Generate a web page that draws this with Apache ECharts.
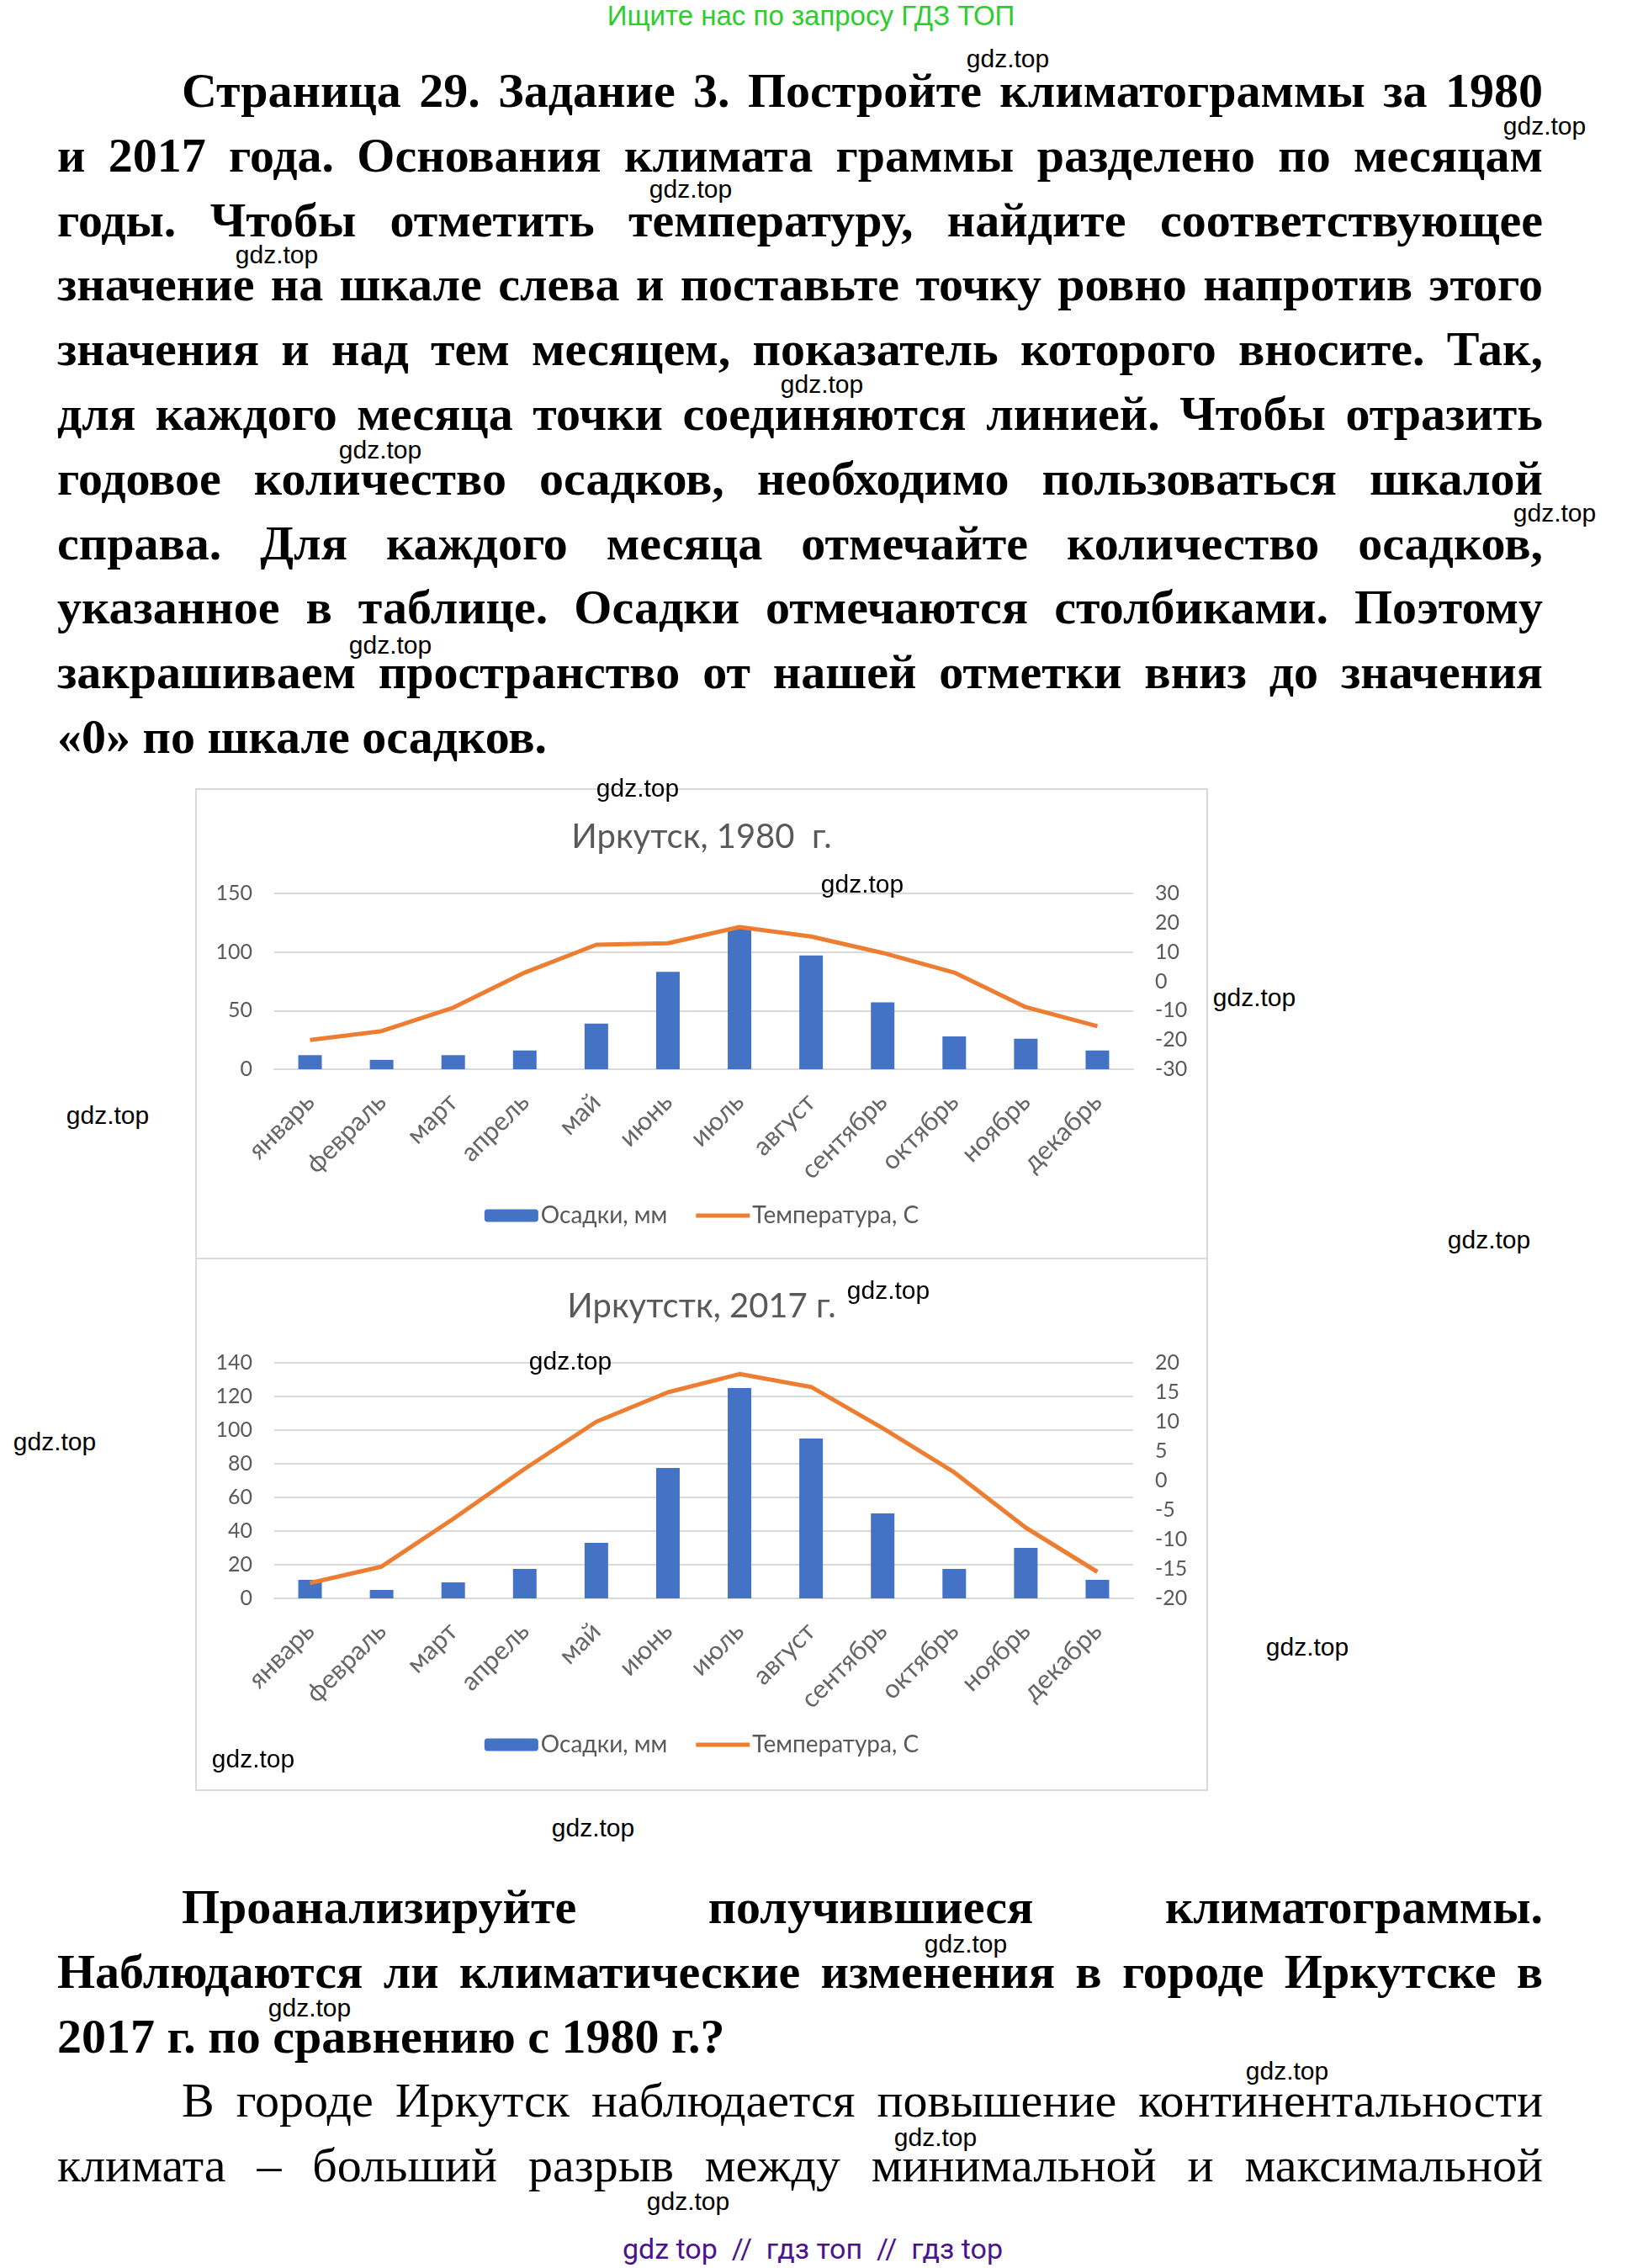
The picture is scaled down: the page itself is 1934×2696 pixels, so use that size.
<!DOCTYPE html>
<html><head><meta charset="utf-8">
<script src="https://cdn.jsdelivr.net/npm/echarts@6/dist/echarts.min.js"></script>
<style>
html,body{margin:0;padding:0;background:#fff;}
body{width:1934px;height:2696px;position:relative;overflow:hidden;}
.txt{position:absolute;left:68px;width:1766px;font-family:"Liberation Serif","Times New Roman",serif;font-size:58px;line-height:76.8px;color:#000;}
.txt div{text-align:justify;text-align-last:justify;}
.txt div.last{text-align:left;text-align-last:left;}
.txt div.ind{text-indent:148px;}
.b{font-weight:bold;}
.wm{position:absolute;font-family:"Liberation Sans",Arial,sans-serif;font-size:30px;color:#000;transform:translate(-50%,-50%);white-space:nowrap;z-index:10;}
.chart{position:absolute;left:232px;width:1200px;border:2px solid #d9d9d9;background:#fff;}
#hdr{position:absolute;left:964px;top:19px;transform:translate(-50%,-50%);font-family:"Liberation Sans",Arial,sans-serif;font-size:33px;color:#2ecc2e;white-space:nowrap;}
#ftr{position:absolute;left:966px;top:2673px;transform:translate(-50%,-50%);font-family:Roboto,sans-serif;font-size:34px;color:#4a148c;white-space:pre;}
</style></head>
<body>
<div id="hdr">Ищите нас по запросу ГДЗ ТОП</div>
<div class="txt b" id="t1" style="top:70px;">
<div class="ind">Страница 29. Задание 3. Постройте климатограммы за 1980</div>
<div>и 2017 года. Основания климата граммы разделено по месяцам</div>
<div>годы. Чтобы отметить температуру, найдите соответствующее</div>
<div>значение на шкале слева и поставьте точку ровно напротив этого</div>
<div>значения и над тем месяцем, показатель которого вносите. Так,</div>
<div>для каждого месяца точки соединяются линией. Чтобы отразить</div>
<div>годовое количество осадков, необходимо пользоваться шкалой</div>
<div>справа. Для каждого месяца отмечайте количество осадков,</div>
<div>указанное в таблице. Осадки отмечаются столбиками. Поэтому</div>
<div>закрашиваем пространство от нашей отметки вниз до значения</div>
<div class="last">«0» по шкале осадков.</div>
</div>
<div class="txt" id="t2" style="top:2229px;">
<div class="ind b">Проанализируйте получившиеся климатограммы.</div>
<div class="b">Наблюдаются ли климатические изменения в городе Иркутске в</div>
<div class="b last">2017 г. по сравнению с 1980 г.?</div>
<div class="ind">В городе Иркутск наблюдается повышение континентальности</div>
<div>климата – больший разрыв между минимальной и максимальной</div>
</div>
<div class="chart" id="c1" style="top:937px;height:558px;"></div>
<div class="chart" id="c2" style="top:1495px;height:630px;"></div>
<div id="ftr">gdz top  //  гдз топ  //  гдз top</div>
<div id="wms"></div>
<script>
const months = ['январь','февраль','март','апрель','май','июнь','июль','август','сентябрь','октябрь','ноябрь','декабрь'];
const precip1980 = [12, 8, 12, 16, 39, 83, 120, 97, 57, 28, 26, 16];
const temp1980 = [-20, -17, -9, 3, 12.5, 13, 18.5, 15.3, 9.7, 3, -8.8, -15.3];
const precip2017 = [11, 5, 9.5, 17.5, 33, 77.5, 125, 95, 50.5, 17.5, 30, 11];
const temp2017 = [-17.4, -14.6, -6.5, 2, 10, 15, 18.1, 15.9, 8.9, 1.4, -8, -15.5];
const leftTicks1980 = {min:0, max:150, interval:50};
const rightTicks1980 = {min:-30, max:30, interval:10};
const leftTicks2017 = {min:0, max:140, interval:20};
const rightTicks2017 = {min:-20, max:20, interval:5};
const seriesNames = ['Осадки, мм', 'Температура, С'];
const titles = ['Иркутск, 1980  г.', 'Иркутстк, 2017 г.'];

const gray = '#595959';
const FF = 'Lato, "Open Sans", sans-serif';
const lineIcon = 'path://M0,0L0.01,0L0.01,0.01ZM0,5H64V10H0ZM0,15L0.01,15L0.01,14.99Z';
function opt(title, prec, temp, lt, rt, legendBottom){
  const lab = {fontSize:25, color:gray, fontFamily:FF};
  return {
    animation:false,
    title:{text:title,left:'center',top:31,textStyle:{fontFamily:FF,fontSize:40,fontWeight:'normal',color:gray}},
    legend:{bottom:legendBottom,left:'center',itemWidth:64,itemHeight:15,itemGap:34,
      textStyle:{fontSize:28,color:gray,fontFamily:FF,padding:[0,0,0,-2]},
      data:[{name:seriesNames[0]},{name:seriesNames[1],icon:lineIcon}]},
    grid:{left:92,right:87,top:123,bottom:legendBottom===33?226:227},
    xAxis:{type:'category',data:months,axisTick:{show:false},
      axisLine:{lineStyle:{color:'#d9d9d9',width:2}},
      axisLabel:{rotate:45,margin:34,interval:0,fontSize:31,color:'#666',fontFamily:FF}},
    yAxis:[
      {type:'value',min:lt.min,max:lt.max,interval:lt.interval,axisLine:{show:false},axisTick:{show:false},
       axisLabel:Object.assign({margin:26},lab),splitLine:{lineStyle:{color:'#d9d9d9',width:2}}},
      {type:'value',min:rt.min,max:rt.max,interval:rt.interval,axisLine:{show:false},axisTick:{show:false},
       axisLabel:Object.assign({margin:26},lab),splitLine:{show:false}}
    ],
    series:[
      {type:'bar',name:seriesNames[0],data:prec,barWidth:28,itemStyle:{color:'#4472C4'}},
      {type:'line',name:seriesNames[1],yAxisIndex:1,data:temp,symbol:'none',
       lineStyle:{color:'#ED7D31',width:5},itemStyle:{color:'#ED7D31'}}
    ]
  };
}
echarts.init(document.getElementById('c1')).setOption(opt(titles[0],precip1980,temp1980,leftTicks1980,rightTicks1980,33));
echarts.init(document.getElementById('c2')).setOption(opt(titles[1],precip2017,temp2017,leftTicks2017,rightTicks2017,34));

const wmPos = [[1198,70],[1836,150],[821,225],[329,303],[977,457],[452,535],[1848,610],[464,767],
  [758,937],[1025,1051],[1491,1186],[128,1326],[1770,1474],[1056,1534],[65,1714],[678,1618],
  [1554,1958],[301,2091],[705,2173],[1148,2311],[368,2387],[1530,2462],[1112,2541],[818,2617]];
const wms = document.getElementById('wms');
wmPos.forEach(p=>{const d=document.createElement('div');d.className='wm';d.textContent='gdz.top';d.style.left=p[0]+'px';d.style.top=p[1]+'px';wms.appendChild(d);});
</script>
</body></html>
